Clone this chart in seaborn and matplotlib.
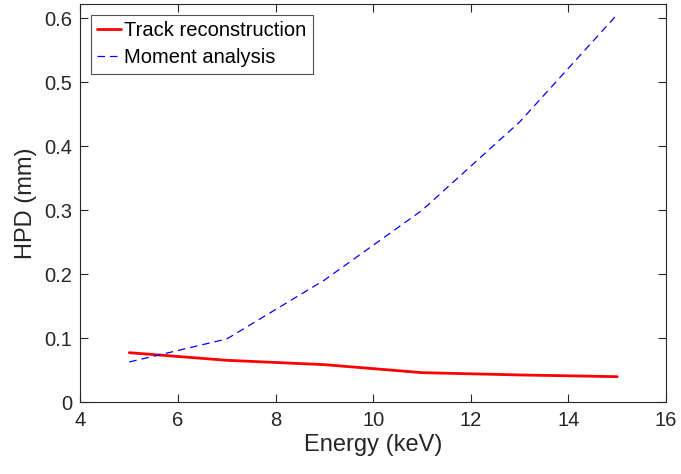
import matplotlib
matplotlib.use("Agg")
import matplotlib.pyplot as plt
import seaborn as sns
import pandas as pd
from matplotlib.ticker import FuncFormatter

energy = [5, 7, 9, 11, 13, 15]
track = [0.0775, 0.0656, 0.0588, 0.0463, 0.0427, 0.0400]
moment = [0.063, 0.099, 0.191, 0.300, 0.438, 0.606]
series_names = ["Track reconstruction", "Moment analysis"]

df = pd.concat([
    pd.DataFrame({"Energy": energy, "HPD": track, "Method": series_names[0]}),
    pd.DataFrame({"Energy": energy, "HPD": moment, "Method": series_names[1]}),
])

sns.set_style("white")
plt.rcParams["font.family"] = ["Liberation Sans", "DejaVu Sans"]

fig = plt.figure(figsize=(6.81, 4.74), dpi=100)
ax = fig.add_axes([0.1182, 0.1513, 0.8598, 0.8409])

sns.lineplot(data=df, x="Energy", y="HPD", hue="Method", style="Method",
             palette={series_names[0]: "#ff0000", series_names[1]: "#0000ff"},
             dashes={series_names[0]: "", series_names[1]: (6, 4)},
             ax=ax, legend=False)
lines = ax.get_lines()
lines[0].set_linewidth(2.0)
lines[1].set_linewidth(0.9)

ax.set_xlim(4, 16)
ax.set_ylim(0, 0.6228)
ax.set_xticks([4, 6, 8, 10, 12, 14, 16])
ax.set_yticks([0, 0.1, 0.2, 0.3, 0.4, 0.5, 0.6])
ax.yaxis.set_major_formatter(FuncFormatter(lambda v, p: "%g" % round(v, 3)))

dark = "#262626"
for s in ax.spines.values():
    s.set_color(dark)
    s.set_linewidth(0.8)
ax.tick_params(direction="in", length=6, width=0.8, colors=dark,
               labelsize=14.5, top=True, right=True, bottom=True, left=True,
               labelcolor=dark, pad=6)
ax.set_xlabel("Energy (keV)", fontsize=17, color=dark, labelpad=3)
ax.set_ylabel("HPD (mm)", fontsize=17, color=dark, labelpad=5)

leg = ax.legend(lines, series_names, loc="upper left", fontsize=14.5,
                frameon=True, fancybox=False, edgecolor=dark,
                borderpad=0.3, handlelength=1.2, handletextpad=0.15,
                labelspacing=0.42, borderaxespad=0,
                bbox_to_anchor=(0.018, 0.9717))
leg.get_frame().set_linewidth(0.8)
for t in leg.get_texts():
    t.set_color("black")

fig.savefig("out.png", dpi=100)
